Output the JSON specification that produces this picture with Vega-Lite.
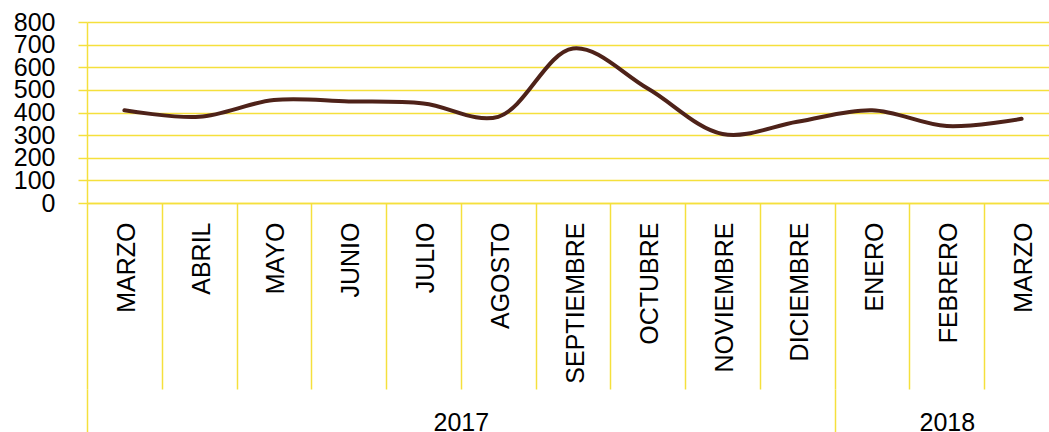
{
  "$schema": "https://vega.github.io/schema/vega-lite/v6.json",
  "autosize": {"type": "none"},
  "padding": {"left": 87, "top": 22, "right": 0, "bottom": 229},
  "width": 962,
  "height": 181,
  "config": {
    "view": {"stroke": null},
    "font": "Liberation Sans",
    "axis": {"labelFont": "Liberation Sans", "labelColor": "#000000", "title": null}
  },
  "layer": [
    {
      "data": {
        "values": [
          {"periodo": "MARZO 2017", "mes": "MARZO", "anio": "2017", "valor": 410},
          {"periodo": "ABRIL 2017", "mes": "ABRIL", "anio": "2017", "valor": 381},
          {"periodo": "MAYO 2017", "mes": "MAYO", "anio": "2017", "valor": 455},
          {"periodo": "JUNIO 2017", "mes": "JUNIO", "anio": "2017", "valor": 449},
          {"periodo": "JULIO 2017", "mes": "JULIO", "anio": "2017", "valor": 440},
          {"periodo": "AGOSTO 2017", "mes": "AGOSTO", "anio": "2017", "valor": 381},
          {"periodo": "SEPTIEMBRE 2017", "mes": "SEPTIEMBRE", "anio": "2017", "valor": 683},
          {"periodo": "OCTUBRE 2017", "mes": "OCTUBRE", "anio": "2017", "valor": 506},
          {"periodo": "NOVIEMBRE 2017", "mes": "NOVIEMBRE", "anio": "2017", "valor": 305},
          {"periodo": "DICIEMBRE 2017", "mes": "DICIEMBRE", "anio": "2017", "valor": 359},
          {"periodo": "ENERO 2018", "mes": "ENERO", "anio": "2018", "valor": 410},
          {"periodo": "FEBRERO 2018", "mes": "FEBRERO", "anio": "2018", "valor": 340},
          {"periodo": "MARZO 2018", "mes": "MARZO", "anio": "2018", "valor": 372}
        ]
      },
      "mark": {"type": "line", "interpolate": "catmull-rom", "color": "#4e2219", "strokeWidth": 4, "strokeCap": "round"},
      "encoding": {
        "x": {
          "field": "periodo",
          "type": "nominal",
          "sort": null,
          "scale": {"range": [0, 972], "paddingInner": 0, "paddingOuter": 0},
          "axis": {
            "orient": "bottom",
            "tickBand": "extent",
            "tickSize": 186,
            "tickColor": "#f5e03c",
            "tickWidth": 1.5,
            "domainColor": "#f5e03c",
            "domainWidth": 1.5,
            "labelAngle": -90,
            "labelAlign": "right",
            "labelBaseline": "middle",
            "labelFontSize": 25,
            "labelPadding": -167,
            "labelOffset": 2,
            "labelOverlap": false,
            "labelExpr": "split(datum.label, ' ')[0]",
            "grid": false
          }
        },
        "y": {
          "field": "valor",
          "type": "quantitative",
          "scale": {"domain": [0, 800], "nice": false},
          "axis": {
            "values": [0, 100, 200, 300, 400, 500, 600, 700, 800],
            "grid": true,
            "gridColor": "#f5e03c",
            "gridWidth": 1.5,
            "tickColor": "#f5e03c",
            "tickWidth": 1.5,
            "tickSize": 9,
            "domainColor": "#f5e03c",
            "domainWidth": 1.5,
            "labelFontSize": 25,
            "labelPadding": 23,
            "labelOverlap": false,
            "labelFlush": false
          }
        }
      }
    },
    {
      "data": {
        "values": [
          {"anio": "2017", "inicio": 0, "fin": 10},
          {"anio": "2018", "inicio": 10, "fin": 13}
        ]
      },
      "mark": {"type": "rule", "strokeOpacity": 0},
      "encoding": {
        "x": {
          "field": "inicio",
          "type": "quantitative",
          "scale": {"domain": [0, 13], "range": [0, 972], "nice": false, "zero": true},
          "axis": {
            "orient": "bottom",
            "offset": 186,
            "domain": false,
            "grid": false,
            "values": [0, 5, 10, 11.5, 13],
            "tickSize": 50,
            "tickColor": "#f5e03c",
            "tickWidth": 1.5,
            "tickOpacity": {"condition": {"test": "datum.value == 5 || datum.value == 11.5", "value": 0}, "value": 1},
            "labelExpr": "datum.value == 5 ? '2017' : datum.value == 11.5 ? '2018' : ''",
            "labelFontSize": 25,
            "labelBaseline": "top",
            "labelPadding": -29,
            "labelFlush": false,
            "labelOverlap": false
          }
        },
        "x2": {"field": "fin"}
      }
    }
  ],
  "resolve": {"scale": {"x": "independent"}, "axis": {"x": "independent"}}
}
